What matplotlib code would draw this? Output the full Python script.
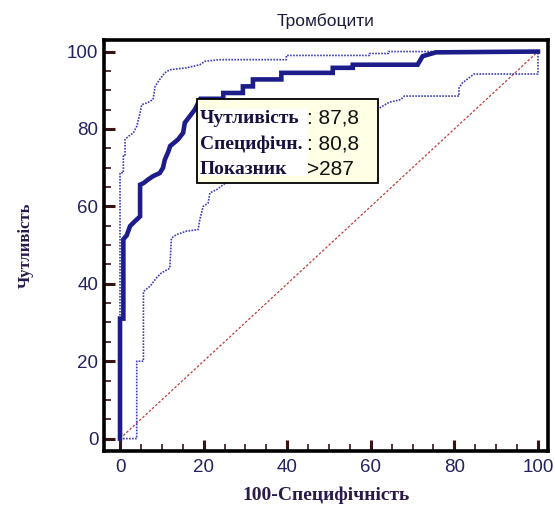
import matplotlib
matplotlib.use("Agg")
import matplotlib.pyplot as plt
from matplotlib.patches import Rectangle
from matplotlib.ticker import MultipleLocator

# ROC curve (100-specificity, sensitivity)
roc_x = [0, 0, 0.8, 0.8, 1.6, 2.4, 3.6, 4.8, 4.8, 5.6, 6.8, 7.9, 9.5, 10.3, 10.7,
         11.5, 12.0, 13.9, 15.1, 15.5, 16.7, 17.9, 19.2, 24.7, 24.7, 29.4, 29.4,
         31.8, 31.8, 38.6, 38.6, 50.9, 50.9, 55.7, 55.7, 71.2, 72.4, 75.6, 100]
roc_y = [0, 31.0, 31.0, 51.5, 52.5, 54.9, 56.2, 57.4, 65.6, 66.0, 67.0, 67.8, 68.6,
         70.0, 72.0, 74.0, 75.6, 77.3, 79.0, 81.6, 83.3, 85.0, 87.8, 87.8, 89.3,
         89.3, 91.0, 91.0, 92.8, 92.8, 94.5, 94.5, 95.8, 95.8, 96.6, 96.6, 98.8,
         99.8, 100]

# upper confidence bound
upper_x = [0, 0, 0.8, 0.8, 1.2, 1.2, 2.0, 3.2, 4.0, 4.8, 5.2, 6.4, 7.9, 8.4, 9.5,
           10.7, 11.9, 15.9, 19.1, 20.3, 23.9, 39.8, 39.8, 59.7, 59.7, 64.2, 64.2, 100]
upper_y = [0, 68.7, 68.7, 73.0, 73.0, 77.3, 78.1, 79.0, 80.7, 84.2, 86.3, 86.7, 87.6,
           91.0, 92.8, 94.5, 95.3, 95.8, 96.6, 97.5, 97.9, 97.9, 99.0, 99.0, 99.5,
           99.5, 100, 100]

# lower confidence bound
lower_x = [0, 4.0, 4.0, 5.6, 5.6, 7.2, 8.7, 9.9, 11.9, 12.3, 13.5, 15.9, 18.7, 19.1,
           19.9, 21.1, 21.5, 23.1, 25.8, 30, 36, 44, 52, 58, 61.6, 62.8, 64.4, 67.2,
           68.0, 81.1, 81.1, 81.9, 83.5, 84.7, 100, 100]
lower_y = [0, 0, 20.0, 20.0, 38.0, 39.4, 41.5, 42.8, 44.0, 51.8, 52.7, 53.6, 54.0,
           56.6, 60.0, 60.9, 63.5, 64.3, 66.5, 69, 72, 76, 80, 83, 85.0, 85.9, 86.9,
           87.6, 88.5, 88.5, 90.6, 91.9, 93.2, 94.2, 94.2, 100]

diag = [0, 100]

legend_labels = ["Чутливість", "Специфічн.", "Показник"]
legend_values = [": 87,8", ": 80,8", ">287"]

navy = "#1c1c8a"
text_navy = "#22225e"

fig = plt.figure(figsize=(5.55, 5.07), dpi=100)
ax = fig.add_axes([0.1874, 0.1105, 0.8, 0.8107])

ax.plot(diag, diag, color="#c03a3a", lw=0.9, linestyle=(0, (2, 1.5)), zorder=2)
ax.plot(upper_x, upper_y, color="#3c3cb8", lw=1.2, linestyle=(0, (1, 0.8)), zorder=3)
ax.plot(lower_x, lower_y, color="#3c3cb8", lw=1.2, linestyle=(0, (1, 0.8)), zorder=3)
ax.plot(roc_x, roc_y, color=navy, lw=3.3, solid_joinstyle="miter", zorder=4)

ax.set_xlim(-3.83, 102.4)
ax.set_ylim(-3.2, 103.0)

ax.xaxis.set_major_locator(MultipleLocator(20))
ax.xaxis.set_minor_locator(MultipleLocator(5))
ax.yaxis.set_major_locator(MultipleLocator(20))
ax.yaxis.set_minor_locator(MultipleLocator(5))
ax.tick_params(which="major", direction="in", length=8, width=2.2, color="#3a1414",
               labelsize=13.5, labelcolor=text_navy)
ax.tick_params(which="minor", direction="in", length=5, width=1.2, color="#3a1414")
ax.tick_params(axis="x", which="major", pad=6)
ax.tick_params(axis="y", which="major", pad=4)
for lab in ax.get_xticklabels() + ax.get_yticklabels():
    lab.set_fontfamily("Liberation Sans")

for sp in ax.spines.values():
    sp.set_linewidth(2.6)
    sp.set_color("black")

ax.set_title("Тромбоцити", fontsize=12.5, family="Liberation Sans", color="#1a1a3a", pad=10)
ax.set_xlabel("100-Специфічність", fontsize=14, family="Liberation Serif",
              fontweight="bold", color="#2a1a4a", labelpad=7)
ax.set_ylabel("Чутливість", fontsize=12, family="Liberation Serif",
              fontweight="bold", color="#2a1a4a", labelpad=24)

# info box
ax.add_patch(Rectangle((0.209, 0.651), 0.407, 0.206, transform=ax.transAxes,
                       facecolor="#ffffe6", edgecolor="black", lw=1.3, zorder=5))
ax.add_patch(Rectangle((0.216, 0.668), 0.243, 0.165, transform=ax.transAxes,
                       facecolor="white", edgecolor="none", zorder=5))
rows_y = [0.809, 0.746, 0.685]
for lab, val, yy in zip(legend_labels, legend_values, rows_y):
    ax.text(0.216, yy, lab, transform=ax.transAxes, fontsize=14, fontweight="bold",
            family="Liberation Serif", color="#1a1040", va="center", ha="left", zorder=6)
    ax.text(0.458, yy, val, transform=ax.transAxes, fontsize=15,
            family="Liberation Sans", color="#101010", va="center", ha="left", zorder=6)

fig.savefig("out.png", dpi=100)
